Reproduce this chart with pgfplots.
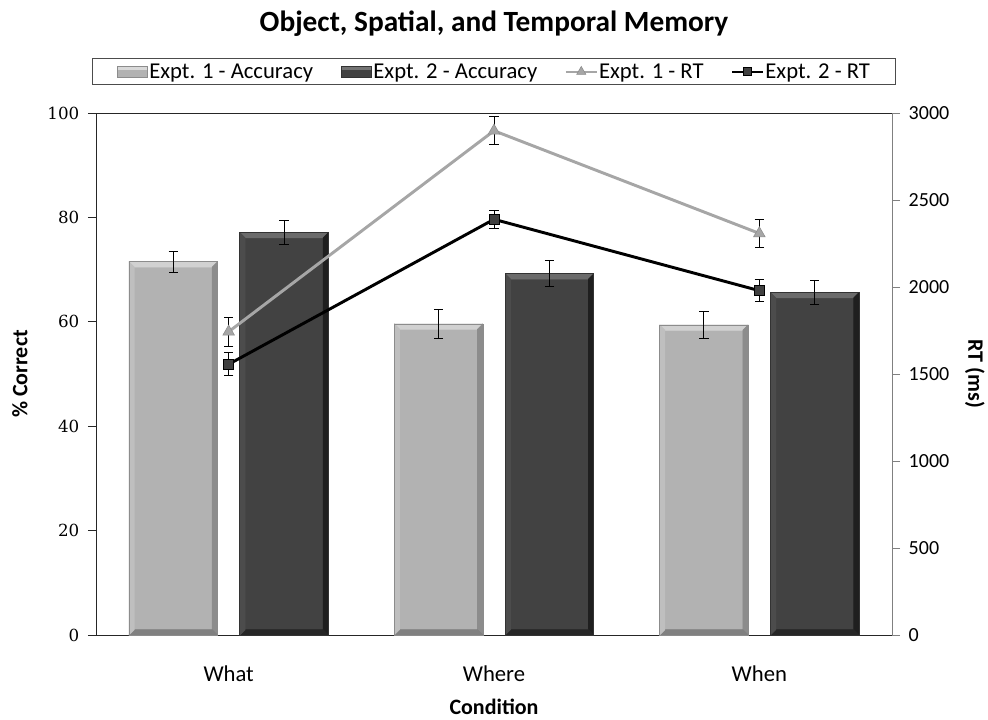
\documentclass[border=0pt]{standalone}
\usepackage{pgfplots}
\pgfplotsset{compat=1.18}
\usepackage{fontspec}
\setmainfont{Carlito}
\newfontfamily\numfont{DejaVu Serif}
\definecolor{barA}{HTML}{B2B2B2}
\definecolor{barB}{HTML}{424242}
\definecolor{rtA}{HTML}{A6A6A6}
\definecolor{sqB}{HTML}{404040}
\def\ppb{path picture bounding box}
\tikzset{bevel/.style n args={4}{path picture={
  \fill[#1, path picture={}] (\ppb.north west) -- (\ppb.north east) -- ([shift={(-4pt,-4pt)}]\ppb.north east) -- ([shift={(4pt,-4pt)}]\ppb.north west) -- cycle;
  \fill[#2, path picture={}] (\ppb.north east) -- (\ppb.south east) -- ([shift={(-4pt,4pt)}]\ppb.south east) -- ([shift={(-4pt,-4pt)}]\ppb.north east) -- cycle;
  \fill[#3, path picture={}] (\ppb.south west) -- (\ppb.south east) -- ([shift={(-4pt,4pt)}]\ppb.south east) -- ([shift={(4pt,4pt)}]\ppb.south west) -- cycle;
  \fill[#4, path picture={}] (\ppb.north west) -- (\ppb.south west) -- ([shift={(4pt,4pt)}]\ppb.south west) -- ([shift={(4pt,-4pt)}]\ppb.north west) -- cycle;
}}}
\pgfplotsset{
  errstyle/.style={error bars/.cd, y dir=both, y explicit,
    error bar style={black, line width=0.7pt, solid, path picture={}},
    error mark options={rotate=90, black, mark size=3.5pt, line width=0.7pt, solid, path picture={}}},
  barAstyle/.style={ybar, bar width=0.334, bar shift=0, fill=barA, draw=black!45, line width=0.5pt,
    bevel={white!82!black}{black!45}{black!50}{white!75!black}, errstyle},
  barBstyle/.style={ybar, bar width=0.334, bar shift=0, fill=barB, draw=black!80, line width=0.5pt,
    bevel={white!42!black}{black!88}{black!85}{white!30!black}, errstyle},
}
\begin{document}
\begin{tikzpicture}
\useasboundingbox (0,0) rectangle (741pt,539.25pt);
\begin{axis}[
  at={(72pt,63pt)}, anchor=south west,
  scale only axis, width=597pt, height=391.5pt,
  xmin=-0.5, xmax=2.5, ymin=0, ymax=100,
  axis x line*=box, axis y line*=left,
  axis line style={black!85, line width=0.75pt},
  xtick={0,1,2}, xticklabels={What,Where,When},
  x tick style={draw=none},
  ytick={0,20,...,100},
  y tick style={black!85, line width=0.75pt},
  tick align=outside, major tick length=6pt,
  ytick pos=left,
  yticklabel style={font=\numfont\fontsize{12.5}{15}\selectfont, xshift=-3pt, /pgf/number format/assume math mode=true},
  xticklabel style={font=\fontsize{17}{20}\selectfont, yshift=-13.5pt},
  xlabel={Condition},
  xlabel style={font=\fontsize{16.5}{19}\selectfont\bfseries, at={(axis description cs:0.5,0)}, anchor=base, yshift=-59.5pt},
  ylabel={\% Correct},
  ylabel style={font=\fontsize{16.5}{19}\selectfont\bfseries, at={(axis description cs:-0.0955,0.5)}, anchor=center},
  title={Object, Spatial, and Temporal Memory},
  title style={font=\fontsize{22}{26}\selectfont\bfseries, at={(axis description cs:0.5,1.1404)}, anchor=base},
]
\addplot[barAstyle] coordinates {(-0.209,71.5) +- (0,2.0)};
\addplot[barAstyle] coordinates {(0.791,59.6) +- (0,2.7)};
\addplot[barAstyle] coordinates {(1.791,59.4) +- (0,2.5)};
\addplot[barBstyle] coordinates {(0.209,77.1) +- (0,2.3)};
\addplot[barBstyle] coordinates {(1.209,69.2) +- (0,2.5)};
\addplot[barBstyle] coordinates {(2.209,65.6) +- (0,2.3)};
\end{axis}
\begin{axis}[
  at={(72pt,63pt)}, anchor=south west,
  scale only axis, width=597pt, height=391.5pt,
  xmin=-0.5, xmax=2.5, ymin=0, ymax=3000,
  axis x line=none, axis y line*=right,
  y axis line style={black!50, line width=0.75pt},
  ytick={0,500,...,3000},
  y tick style={black!50, line width=0.75pt},
  tick align=outside, major tick length=6pt,
  yticklabel style={font=\fontsize{15}{18}\selectfont, xshift=3pt, /pgf/number format/assume math mode=true, /pgf/number format/1000 sep={}},
  ylabel={RT (ms)},
  ylabel style={font=\fontsize{16.5}{19}\selectfont\bfseries, at={(axis description cs:1.104,0.5)}, anchor=center, rotate=180},
  legend columns=4,
  legend style={at={(0.5,1.079)}, anchor=center, draw=black!70, line width=0.75pt,
    font=\fontsize{17}{20}\selectfont, inner xsep=18pt, inner ysep=1.5pt,
    nodes={inner xsep=1pt, inner ysep=2pt},
    /tikz/every even column/.append style={column sep=19.7pt}},
  legend cell align=left,
]
\addlegendimage{legend image code/.code={\draw[fill=barA, draw=black!45, line width=0.5pt] (0pt,-4pt) rectangle (23pt,4pt); \fill[white!85!black] (1pt,2pt) rectangle (22pt,3.5pt);}}
\addlegendentry{Expt. 1 - Accuracy}
\addlegendimage{legend image code/.code={\draw[fill=barB, draw=black!80, line width=0.5pt] (0pt,-4pt) rectangle (23pt,4pt); \fill[white!45!black] (1pt,2pt) rectangle (22pt,3.5pt);}}
\addlegendentry{Expt. 2 - Accuracy}
\addplot[color=rtA, line width=2.2pt, mark=triangle*, mark size=5pt,
  mark options={fill=rtA, draw=black!45, line width=0.4pt, solid},
  legend image code/.code={\draw[line width=1.6pt] (0pt,0pt) -- (23pt,0pt); \path plot[mark size=4pt] coordinates {(11.5pt,0pt)};},
  errstyle]
  coordinates {(0,1743) +- (0,82) (1,2898) +- (0,80) (2,2308) +- (0,82)};
\addlegendentry{Expt. 1 - RT}
\addplot[color=black, line width=2.2pt, mark=square*, mark size=3.8pt,
  mark options={fill=sqB, draw=black, line width=0.5pt, solid},
  legend image code/.code={\draw[line width=1.6pt] (0pt,0pt) -- (23pt,0pt); \path plot[mark size=3pt] coordinates {(11.5pt,0pt)};},
  errstyle]
  coordinates {(0,1556) +- (0,65) (1,2389) +- (0,50) (2,1979) +- (0,62)};
\addlegendentry{Expt. 2 - RT}
\end{axis}
\end{tikzpicture}
\end{document}
